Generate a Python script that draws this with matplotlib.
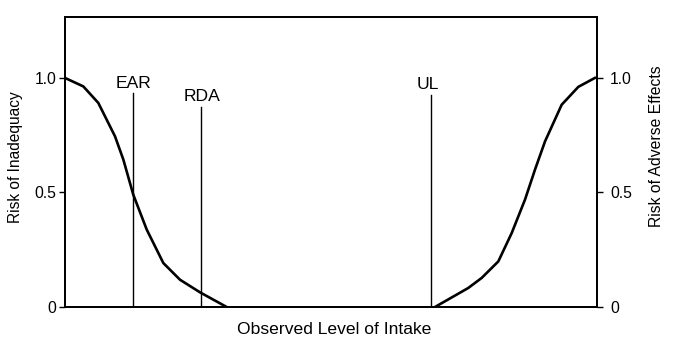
import matplotlib
matplotlib.use("Agg")
import matplotlib.pyplot as plt

plt.rcParams['font.family'] = ['Liberation Sans', 'DejaVu Sans']

# curves (x on a 0-100 intake scale)
inadequacy_x = [0, 3.44, 6.26, 9.40, 10.96, 12.84, 15.36, 18.48, 21.62, 25.38, 30.39]
inadequacy_y = [1.0, 0.963, 0.891, 0.745, 0.644, 0.490, 0.338, 0.192, 0.119, 0.064, 0.0]

adverse_x = [69.55, 75.8, 78.33, 81.45, 83.97, 86.47, 88.35, 90.23, 93.36, 96.49, 99.6]
adverse_y = [0.0, 0.083, 0.127, 0.199, 0.323, 0.469, 0.600, 0.723, 0.883, 0.961, 1.0]

# reference levels: name, position, height of line
markers = ['EAR', 'RDA', 'UL']
marker_x = [12.84, 25.5, 68.8]
marker_top = [0.933, 0.875, 0.926]
label_dx = [0, 1, -2.5]   # small horizontal nudge of each label, in points

yticks = [0, 0.5, 1.0]
ytick_labels = ['0', '0.5', '1.0']

fig = plt.figure(figsize=(6.81, 3.51), dpi=100)
ax = fig.add_axes([65/681, 1 - 307/351, 532/681, 290/351])

ax.plot(inadequacy_x, inadequacy_y, color='black', lw=1.9, solid_joinstyle='round')
ax.plot(adverse_x, adverse_y, color='black', lw=1.9, solid_joinstyle='round')

for name, xm, top, dx in zip(markers, marker_x, marker_top, label_dx):
    ax.plot([xm, xm], [0, top], color='black', lw=1.0)
    ax.annotate(name, (xm, top), xytext=(dx, 4), textcoords='offset points',
                ha='center', va='baseline', fontsize=12.6)

ax.set_xlim(0, 100)
ax.set_ylim(0, 1.266)
ax.set_xticks([])
ax.set_yticks(yticks)
ax.set_yticklabels(ytick_labels)
ax.tick_params(axis='y', direction='out', length=4, width=1, labelsize=11.3, pad=2)
for s in ax.spines.values():
    s.set_linewidth(1.3)
ax.set_ylabel('Risk of Inadequacy', fontsize=11.2)
ax.yaxis.label.set_va('center')
ax.yaxis.set_label_coords(-0.093, 0.517)
ax.set_xlabel('Observed Level of Intake', fontsize=12.6)
ax.xaxis.label.set_va('center')
ax.xaxis.set_label_coords(0.506, -0.076)

ax2 = ax.twinx()
ax2.set_ylim(ax.get_ylim())
ax2.set_yticks(yticks)
ax2.set_yticklabels(ytick_labels)
ax2.tick_params(axis='y', direction='out', length=4, width=1, labelsize=11.3, pad=5.5)
for s in ax2.spines.values():
    s.set_linewidth(1.3)
ax2.set_ylabel('Risk of Adverse Effects', fontsize=11.3)
ax2.yaxis.label.set_va('center')
ax2.yaxis.set_label_coords(1.111, 0.555)

fig.savefig('out.png', dpi=100)
